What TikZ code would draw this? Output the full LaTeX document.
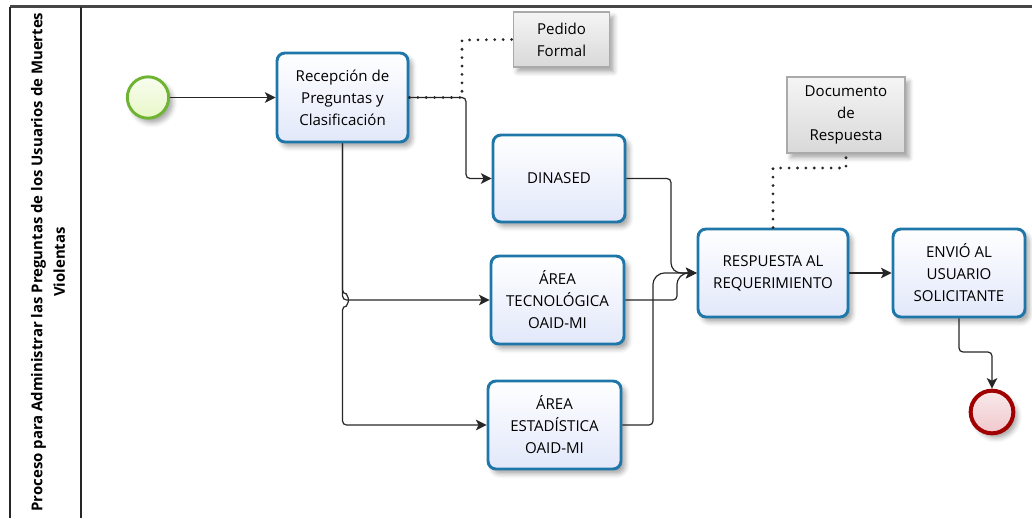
\documentclass[tikz,border=0pt]{standalone}
\usepackage{fontspec}
\setmainfont{Open Sans}
\usetikzlibrary{arrows.meta,shadows.blur}
\definecolor{bpmnblue}{RGB}{31,119,169}
\definecolor{boxbot}{RGB}{226,232,250}
\definecolor{startgreen}{RGB}{110,180,50}
\definecolor{startfill}{RGB}{232,247,200}
\definecolor{endred}{RGB}{160,0,0}
\definecolor{endfill}{RGB}{240,200,204}
\definecolor{datagray}{RGB}{170,170,170}
\definecolor{framegray}{RGB}{70,70,70}
\tikzset{
  shad/.style={blur shadow={shadow xshift=3pt,shadow yshift=-3.5pt,shadow blur radius=3.5pt,shadow opacity=35}},
  task/.style={shad,rectangle,rounded corners=6pt,draw=bpmnblue,line width=2.2pt,
    top color=white,bottom color=boxbot,align=center,font=\fontsize{11.3}{16.5}\selectfont,inner sep=1pt},
  dataobj/.style={shad,rectangle,draw=datagray,line width=0.8pt,
    top color=white!96!black,bottom color=white!85!black,align=center,font=\fontsize{11.3}{16.5}\selectfont,inner sep=1pt},
  startev/.style={shad,circle,draw=startgreen,line width=2.2pt,top color=white!70!startfill,bottom color=startfill,minimum size=31pt,inner sep=0pt},
  endev/.style={shad,circle,draw=endred,line width=3pt,top color=white!60!endfill,bottom color=endfill,minimum size=32pt,inner sep=0pt},
  flow/.style={line width=0.9pt,black!85,rounded corners=3pt,-{Stealth[length=8pt,width=8pt,inset=2pt]}},
  assoc/.style={line width=2.3pt,line cap=round,dash pattern=on 0pt off 6.3pt,black!85},
}
\begin{document}
\begin{tikzpicture}[x=0.75pt,y=-0.75pt]
\useasboundingbox (0,0) rectangle (1032,518);
% pool frame
\draw[line width=1.8pt,framegray] (10,6.5) -- (1032,6.5);
\draw[line width=1.1pt,black!85] (10,6.5) -- (10,518);
\draw[line width=1.1pt,black!85] (81,6.5) -- (81,518);
\node[rotate=90,align=center,font=\bfseries\fontsize{11.2}{17}\selectfont] (lane) at (48,262)
  {Proceso para Administrar las Preguntas de los Usuarios de Muertes\\Violentas};

% nodes
\node[startev] (start) at (148,97.5) {};
\node[task,minimum width=98.25pt,minimum height=66.75pt] (rec) at (342.5,97.5) {Recepción de\\Preguntas y\\Clasificación};
\node[dataobj,minimum width=72pt,minimum height=41.25pt] (ped) at (561.5,39.5) {Pedido\\Formal};
\node[task,minimum width=99pt,minimum height=65.25pt] (din) at (559,178.5) {DINASED};
\node[task,minimum width=99.75pt,minimum height=66pt] (tec) at (557.5,300) {ÁREA\\TECNOLÓGICA\\OAID-MI};
\node[task,minimum width=99.75pt,minimum height=66pt] (est) at (554.5,425) {ÁREA\\ESTADÍSTICA\\OAID-MI};
\node[task,minimum width=112.5pt,minimum height=66pt] (resp) at (773,273) {RESPUESTA AL\\REQUERIMIENTO};
\node[task,minimum width=99pt,minimum height=66pt] (env) at (959,273) {ENVIÓ AL\\USUARIO\\SOLICITANTE};
\node[dataobj,minimum width=88.5pt,minimum height=57pt] (doc) at (846,115) {Documento\\de\\Respuesta};
\node[endev] (fin) at (992,412) {};

% associations
\draw[assoc] (rec.east) -- (462,97.5) -- (462,40) -- (ped.west);
\draw[assoc] (resp.north) -- (773,168) -- (846,168) -- (doc.south);

% sequence flows
\draw[flow] (start.east) -- (rec.west);
\draw[flow] (rec.east) -- (466,97.5) -- (466,178.5) -- (din.west);
\draw[flow] (rec.south) -- (342.5,300) -- (tec.west);
\draw[flow] (rec.south) -- (342.5,294) arc[start angle=-90,end angle=90,radius=6] -- (342.5,425) -- (est.west);
\draw[flow] (din.east) -- (671,178.5) -- (671,267) -- (677,273) -- (resp.west);
\draw[flow] (tec.east) -- (677,300) -- (677,280) -- (684,273) -- (resp.west);
\draw[flow] (est.east) -- (653,425) -- (653,280) -- (660,273) -- (resp.west);
\draw[flow] (resp.east) -- (env.west);
\draw[flow] (env.south) -- (959,352) -- (992,352) -- (fin.north);
\end{tikzpicture}
\end{document}
